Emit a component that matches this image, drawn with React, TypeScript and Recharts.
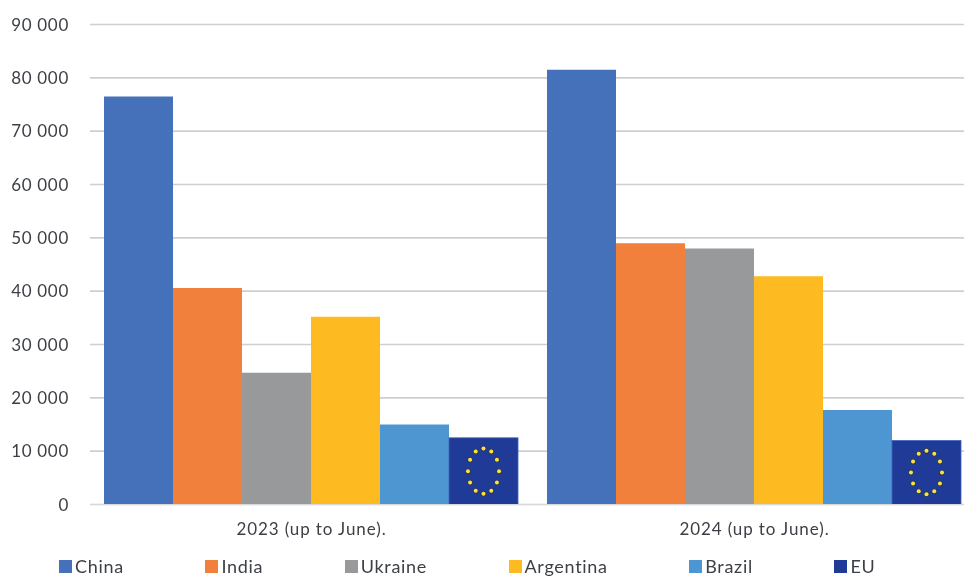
import { BarChart, Bar, XAxis, YAxis, CartesianGrid, Legend } from 'recharts';

const periods = ['2023 (up to June).', '2024 (up to June).'];
const china = [76500, 81500];
const india = [40600, 49000];
const ukraine = [24700, 48000];
const argentina = [35200, 42800];
const brazil = [15000, 17700];
const eu = [12500, 12000];
const yTicks = [0, 10000, 20000, 30000, 40000, 50000, 60000, 70000, 80000, 90000];

const series = [
  { name: 'China', values: china, color: '#4471b9' },
  { name: 'India', values: india, color: '#f0803c' },
  { name: 'Ukraine', values: ukraine, color: '#97999b' },
  { name: 'Argentina', values: argentina, color: '#fdbb21' },
  { name: 'Brazil', values: brazil, color: '#4e96d1' },
  { name: 'EU', values: eu, color: '#1f3a97' },
];

const rows = periods.map((period, i) => {
  const row: any = { period };
  series.forEach((s) => {
    row[s.name] = s.values[i];
  });
  return row;
});

const font = 'Lato, "Open Sans", sans-serif';
const textColor = '#3c3f45';

const fmt = (v: number) => String(v).replace(/\B(?=(\d{3})+$)/g, ' ');

// EU bars are filled with the flag, stretched to the bar like in the original
function FlagBar({ x, y, width, height, fill }: any) {
  const cx = x + width / 2;
  const cy = y + height / 2;
  const stars = Array.from({ length: 12 }, (_, i) => (i * Math.PI) / 6);
  return (
    <g>
      <rect x={x} y={y} width={width} height={height} fill={fill} stroke='#3f64b8' strokeWidth={0.8} />
      {stars.map((a, i) => (
        <g key={i}>
          <circle cx={cx + Math.sin(a) * width * 0.225} cy={cy - Math.cos(a) * height * 0.34} r={3} fill='#2b3a66' />
          <circle cx={cx + Math.sin(a) * width * 0.225} cy={cy - Math.cos(a) * height * 0.34} r={2} fill='#fbe23c' />
        </g>
      ))}
    </g>
  );
}

function LegendRow() {
  return (
    <div style={{ display: 'flex', gap: 81.5, paddingLeft: 59, fontFamily: font, fontSize: 18, color: textColor, letterSpacing: 0.7 }}>
      {series.map((s) => (
        <div key={s.name} style={{ display: 'flex', alignItems: 'center', gap: 3, lineHeight: '18px' }}>
          <span style={{ width: 13, height: 13, background: s.color, display: 'inline-block' }} />
          {s.name}
        </div>
      ))}
    </div>
  );
}

export default function App() {
  return (
    <div style={{ position: 'absolute', left: 0, top: 0, width: 964, height: 578, overflow: 'hidden', background: '#fff', filter: 'blur(0.4px)' }}>
      <BarChart
        width={976}
        height={578}
        data={rows}
        margin={{ top: 24.5, right: 0, bottom: 20, left: 0 }}
        barGap={0}
        barCategoryGap={14}
      >
        <CartesianGrid horizontal vertical={false} stroke='#cfcfcf' strokeWidth={1.6} />
        <XAxis
          dataKey='period'
          height={30}
          axisLine={{ stroke: '#d8d8d8' }}
          tickLine={false}
          tickMargin={12}
          tick={{ fontFamily: font, fontSize: 17, fill: textColor, letterSpacing: 0.9 }}
        />
        <YAxis
          width={90}
          domain={[0, 90000]}
          ticks={yTicks}
          interval={0}
          tickFormatter={fmt}
          axisLine={false}
          tickLine={false}
          tickSize={0}
          tickMargin={21}
          tick={{ fontFamily: font, fontSize: 17, fill: textColor, letterSpacing: 0.7 }}
        />
        <Legend
          verticalAlign='bottom'
          align='left'
          height={23.5}
          wrapperStyle={{ top: 557, bottom: 'auto', left: 0 }}
          content={<LegendRow />}
        />
        {series.map((s) => (
          <Bar
            key={s.name}
            dataKey={s.name}
            fill={s.color}
            isAnimationActive={false}
            shape={s.name === 'EU' ? <FlagBar /> : undefined}
          />
        ))}
      </BarChart>
    </div>
  );
}
